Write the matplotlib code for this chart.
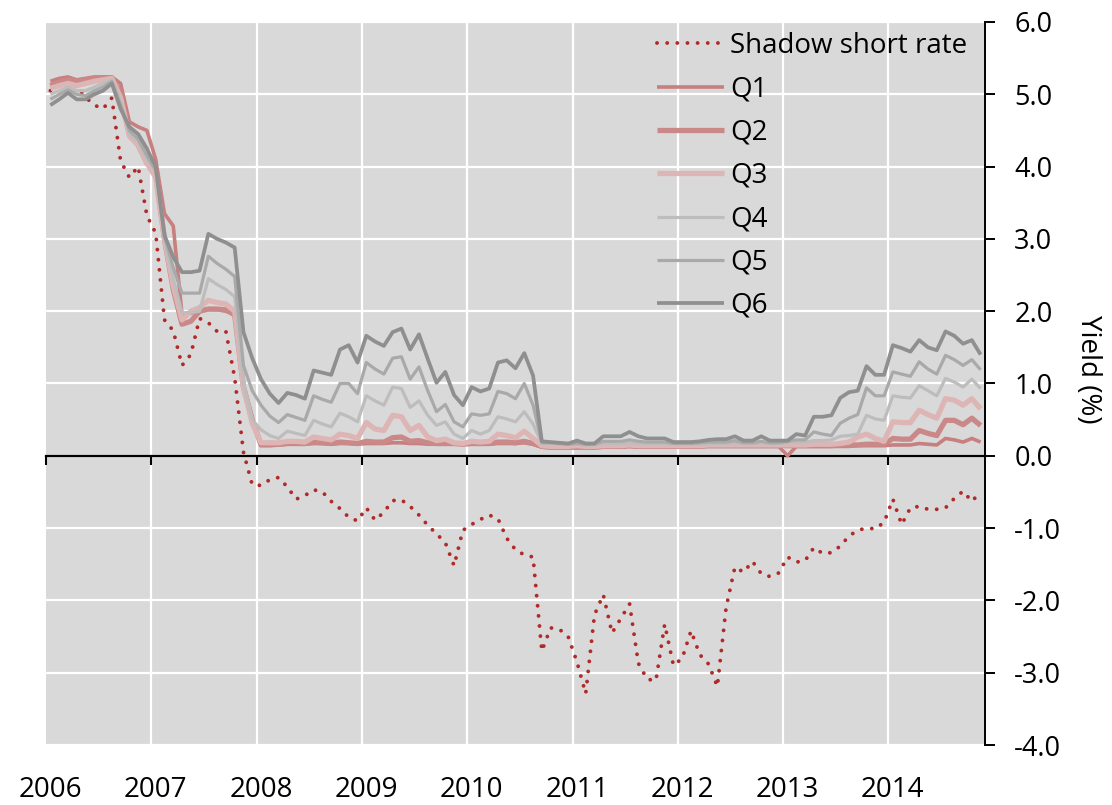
import numpy as np
import matplotlib
matplotlib.use('Agg')
import matplotlib.pyplot as plt
import matplotlib.transforms as mtransforms

plt.rcParams['font.family'] = ['Open Sans', 'DejaVu Sans']
plt.rcParams['axes.unicode_minus'] = False

# 월별 자료 (2006.01 ~ 2014.11), 단위: %
shadow = [
    5.05, 5.15, 5.21, 5.10, 4.96, 4.85, 4.80, 4.95, 4.08, 3.85, 4.00, 3.32,
    3.08, 1.88, 1.73, 1.25, 1.40, 1.90, 1.84, 1.72, 1.72, 1.08, 0.05, -0.40,
    -0.41, -0.33, -0.30, -0.43, -0.60, -0.55, -0.47, -0.50, -0.63, -0.73, -0.85, -0.90,
    -0.72, -0.89, -0.78, -0.62, -0.61, -0.70, -0.82, -0.96, -1.08, -1.20, -1.52, -1.03,
    -0.95, -0.88, -0.82, -0.87, -1.14, -1.30, -1.37, -1.40, -2.70, -2.38, -2.40, -2.50,
    -2.85, -3.29, -2.20, -1.92, -2.45, -2.25, -2.05, -2.87, -3.09, -3.11, -2.33, -2.90,
    -2.80, -2.42, -2.75, -2.88, -3.19, -2.10, -1.54, -1.61, -1.46, -1.63, -1.67, -1.62,
    -1.40, -1.47, -1.45, -1.27, -1.35, -1.34, -1.25, -1.11, -1.03, -1.00, -1.01, -0.92,
    -0.60, -0.95, -0.72, -0.70, -0.74, -0.74, -0.72, -0.59, -0.49, -0.63, -0.50,
]
q1 = [
    5.18, 5.22, 5.24, 5.20, 5.22, 5.24, 5.24, 5.24, 5.15, 4.62, 4.55, 4.50,
    4.10, 3.35, 3.18, 1.95, 1.97, 2.03, 2.02, 2.02, 2.00, 1.95, 1.00, 0.50,
    0.15, 0.15, 0.15, 0.16, 0.16, 0.16, 0.17, 0.17, 0.16, 0.17, 0.17, 0.16,
    0.17, 0.17, 0.17, 0.18, 0.18, 0.17, 0.17, 0.16, 0.16, 0.16, 0.16, 0.16,
    0.16, 0.16, 0.16, 0.17, 0.17, 0.17, 0.18, 0.16, 0.12, 0.11, 0.11, 0.11,
    0.11, 0.11, 0.11, 0.12, 0.12, 0.12, 0.13, 0.12, 0.12, 0.12, 0.12, 0.12,
    0.12, 0.12, 0.13, 0.13, 0.13, 0.13, 0.13, 0.13, 0.13, 0.13, 0.13, 0.13,
    0.00, 0.13, 0.13, 0.13, 0.13, 0.13, 0.13, 0.13, 0.14, 0.14, 0.14, 0.14,
    0.15, 0.15, 0.15, 0.17, 0.16, 0.15, 0.24, 0.22, 0.19, 0.24, 0.19,
]
q2 = [
    5.12, 5.17, 5.20, 5.18, 5.20, 5.22, 5.23, 5.23, 5.00, 4.45, 4.30, 4.05,
    3.90, 3.00, 2.30, 1.82, 1.86, 2.00, 2.03, 2.03, 2.02, 1.95, 0.95, 0.50,
    0.15, 0.15, 0.16, 0.17, 0.17, 0.17, 0.19, 0.18, 0.17, 0.19, 0.18, 0.17,
    0.20, 0.19, 0.19, 0.25, 0.26, 0.20, 0.21, 0.18, 0.17, 0.17, 0.17, 0.16,
    0.17, 0.17, 0.17, 0.19, 0.19, 0.18, 0.20, 0.17, 0.13, 0.12, 0.12, 0.12,
    0.12, 0.12, 0.12, 0.13, 0.13, 0.13, 0.14, 0.13, 0.13, 0.13, 0.13, 0.13,
    0.13, 0.13, 0.13, 0.14, 0.14, 0.14, 0.14, 0.14, 0.14, 0.14, 0.14, 0.14,
    0.14, 0.14, 0.14, 0.14, 0.14, 0.14, 0.15, 0.15, 0.15, 0.16, 0.16, 0.16,
    0.24, 0.23, 0.23, 0.35, 0.31, 0.28, 0.49, 0.49, 0.43, 0.52, 0.42,
]
q3 = [
    5.08, 5.12, 5.15, 5.12, 5.15, 5.18, 5.20, 5.22, 4.95, 4.42, 4.30, 4.05,
    3.85, 3.00, 2.35, 1.88, 2.00, 2.05, 2.15, 2.12, 2.10, 2.00, 0.95, 0.45,
    0.18, 0.18, 0.18, 0.20, 0.20, 0.19, 0.26, 0.24, 0.22, 0.30, 0.28, 0.24,
    0.46, 0.37, 0.35, 0.56, 0.54, 0.35, 0.42, 0.26, 0.21, 0.23, 0.18, 0.17,
    0.20, 0.19, 0.20, 0.30, 0.28, 0.25, 0.34, 0.24, 0.14, 0.13, 0.13, 0.13,
    0.14, 0.13, 0.13, 0.14, 0.14, 0.14, 0.15, 0.14, 0.14, 0.14, 0.14, 0.14,
    0.14, 0.14, 0.14, 0.15, 0.15, 0.15, 0.15, 0.15, 0.15, 0.15, 0.15, 0.15,
    0.15, 0.15, 0.15, 0.16, 0.16, 0.16, 0.17, 0.19, 0.26, 0.30, 0.24, 0.20,
    0.47, 0.46, 0.46, 0.63, 0.57, 0.52, 0.79, 0.77, 0.70, 0.79, 0.65,
]
q4 = [
    5.00, 5.05, 5.10, 5.05, 5.05, 5.10, 5.15, 5.20, 4.90, 4.45, 4.35, 4.10,
    3.95, 3.00, 2.45, 1.98, 1.98, 2.00, 2.45, 2.37, 2.30, 2.20, 1.00, 0.50,
    0.36, 0.28, 0.24, 0.34, 0.31, 0.28, 0.49, 0.44, 0.40, 0.59, 0.54, 0.47,
    0.83, 0.76, 0.70, 0.95, 0.93, 0.67, 0.76, 0.56, 0.42, 0.47, 0.30, 0.24,
    0.35, 0.30, 0.35, 0.54, 0.51, 0.47, 0.61, 0.44, 0.17, 0.17, 0.16, 0.16,
    0.16, 0.15, 0.15, 0.17, 0.17, 0.17, 0.18, 0.17, 0.17, 0.17, 0.17, 0.16,
    0.16, 0.16, 0.16, 0.17, 0.17, 0.17, 0.18, 0.17, 0.17, 0.18, 0.17, 0.17,
    0.18, 0.19, 0.19, 0.21, 0.21, 0.22, 0.27, 0.28, 0.30, 0.56, 0.51, 0.49,
    0.83, 0.81, 0.80, 0.97, 0.90, 0.83, 1.07, 1.02, 0.95, 1.06, 0.93,
]
q5 = [
    4.93, 5.00, 5.06, 5.00, 4.98, 5.05, 5.10, 5.18, 4.85, 4.50, 4.38, 4.15,
    3.95, 3.05, 2.60, 2.25, 2.25, 2.25, 2.76, 2.66, 2.58, 2.48, 1.25, 0.90,
    0.70, 0.55, 0.46, 0.57, 0.53, 0.49, 0.83, 0.78, 0.74, 1.00, 1.00, 0.86,
    1.29, 1.20, 1.13, 1.35, 1.37, 1.06, 1.23, 0.90, 0.61, 0.71, 0.47, 0.40,
    0.58, 0.56, 0.58, 0.89, 0.86, 0.79, 1.00, 0.70, 0.18, 0.18, 0.17, 0.16,
    0.17, 0.16, 0.16, 0.20, 0.20, 0.20, 0.22, 0.20, 0.19, 0.19, 0.19, 0.17,
    0.17, 0.17, 0.18, 0.19, 0.19, 0.19, 0.21, 0.18, 0.18, 0.20, 0.18, 0.18,
    0.20, 0.22, 0.22, 0.33, 0.30, 0.28, 0.45, 0.52, 0.57, 0.94, 0.83, 0.83,
    1.16, 1.13, 1.10, 1.30, 1.20, 1.13, 1.39, 1.33, 1.25, 1.33, 1.19,
]
q6 = [
    4.85, 4.93, 5.02, 4.93, 4.93, 5.00, 5.05, 5.15, 4.80, 4.55, 4.45, 4.25,
    4.00, 3.05, 2.75, 2.54, 2.54, 2.56, 3.07, 3.00, 2.95, 2.88, 1.71, 1.35,
    1.06, 0.86, 0.73, 0.87, 0.84, 0.79, 1.18, 1.15, 1.12, 1.47, 1.53, 1.29,
    1.66, 1.58, 1.52, 1.71, 1.76, 1.47, 1.68, 1.34, 1.01, 1.16, 0.84, 0.70,
    0.95, 0.89, 0.93, 1.29, 1.32, 1.21, 1.42, 1.11, 0.20, 0.19, 0.18, 0.17,
    0.21, 0.17, 0.17, 0.27, 0.27, 0.27, 0.33, 0.27, 0.24, 0.24, 0.24, 0.19,
    0.19, 0.19, 0.20, 0.22, 0.23, 0.23, 0.27, 0.21, 0.21, 0.27, 0.21, 0.21,
    0.21, 0.30, 0.28, 0.54, 0.54, 0.56, 0.80, 0.88, 0.90, 1.24, 1.12, 1.12,
    1.53, 1.49, 1.44, 1.60, 1.50, 1.46, 1.72, 1.66, 1.55, 1.60, 1.40,
]
years = list(range(2006, 2015))
yticks = list(range(-4, 7))

n = len(shadow)
x = 2006 + (np.arange(n) + 0.5) / 12  # 월 중간

fig = plt.figure(figsize=(11.12, 8.05), dpi=100)
ax = fig.add_axes([46 / 1112, 1 - 745 / 805, (985 - 46) / 1112, (745 - 22) / 805])
ax.set_facecolor('#D9D9D9')

# 시리즈
ax.plot(x, shadow, color='#B02A2A', lw=2.8, linestyle=(0, (0.01, 2.6)),
        dash_capstyle='round', label='Shadow short rate', zorder=3)
styles = [
    ('Q1', q1, '#C77F7F', 2.6),
    ('Q2', q2, '#CB8888', 3.8),
    ('Q3', q3, '#DDB5B5', 3.8),
    ('Q4', q4, '#BDBDBD', 2.3),
    ('Q5', q5, '#A9A9A9', 2.3),
    ('Q6', q6, '#8F8F8F', 2.7),
]
for name, vals, c, lw in styles:
    ax.plot(x, vals, color=c, lw=lw, label=name, solid_capstyle='butt', zorder=3)

ax.set_xlim(2006, 2006 + n / 12)
ax.set_ylim(-4, 6)

# 격자
for yr in years[1:]:
    ax.axvline(yr, color='white', lw=1.6, zorder=1)
for v in yticks:
    ax.axhline(v, color='white', lw=1.6, zorder=1)

# 축
for s in ['top', 'left']:
    ax.spines[s].set_visible(False)
ax.spines['bottom'].set_position(('data', 0))
ax.spines['bottom'].set_linewidth(1.6)
ax.spines['bottom'].set_zorder(2)
ax.spines['right'].set_linewidth(1.4)
ax.set_xticks(years)
ax.tick_params(axis='x', direction='out', length=6.5, width=1.5, labelbottom=False)
ax.yaxis.tick_right()
ax.set_yticks(yticks)
ax.set_yticklabels([f'{v:.1f}' for v in yticks])
ax.tick_params(axis='y', direction='out', length=7, width=1.4, pad=14, labelsize=19.5)
ax.yaxis.set_label_position('right')
ax.set_ylabel('Yield (%)', rotation=-90, fontsize=20, va='center')
ax.yaxis.set_label_coords(1.11, 0.52)

# 연도 라벨 (하단)
trans = mtransforms.blended_transform_factory(ax.transData, ax.transAxes)
for yr in years:
    ax.text(yr + 0.5 / 12, -0.062, str(yr), transform=trans, ha='center', va='center',
            fontsize=20)

leg = ax.legend(loc='upper right', bbox_to_anchor=(0.981, 0.986), frameon=False,
                fontsize=20, handlelength=2.4, handletextpad=0.22, labelspacing=0.55,
                borderaxespad=0, borderpad=0)

fig.savefig('out.png', dpi=100)
